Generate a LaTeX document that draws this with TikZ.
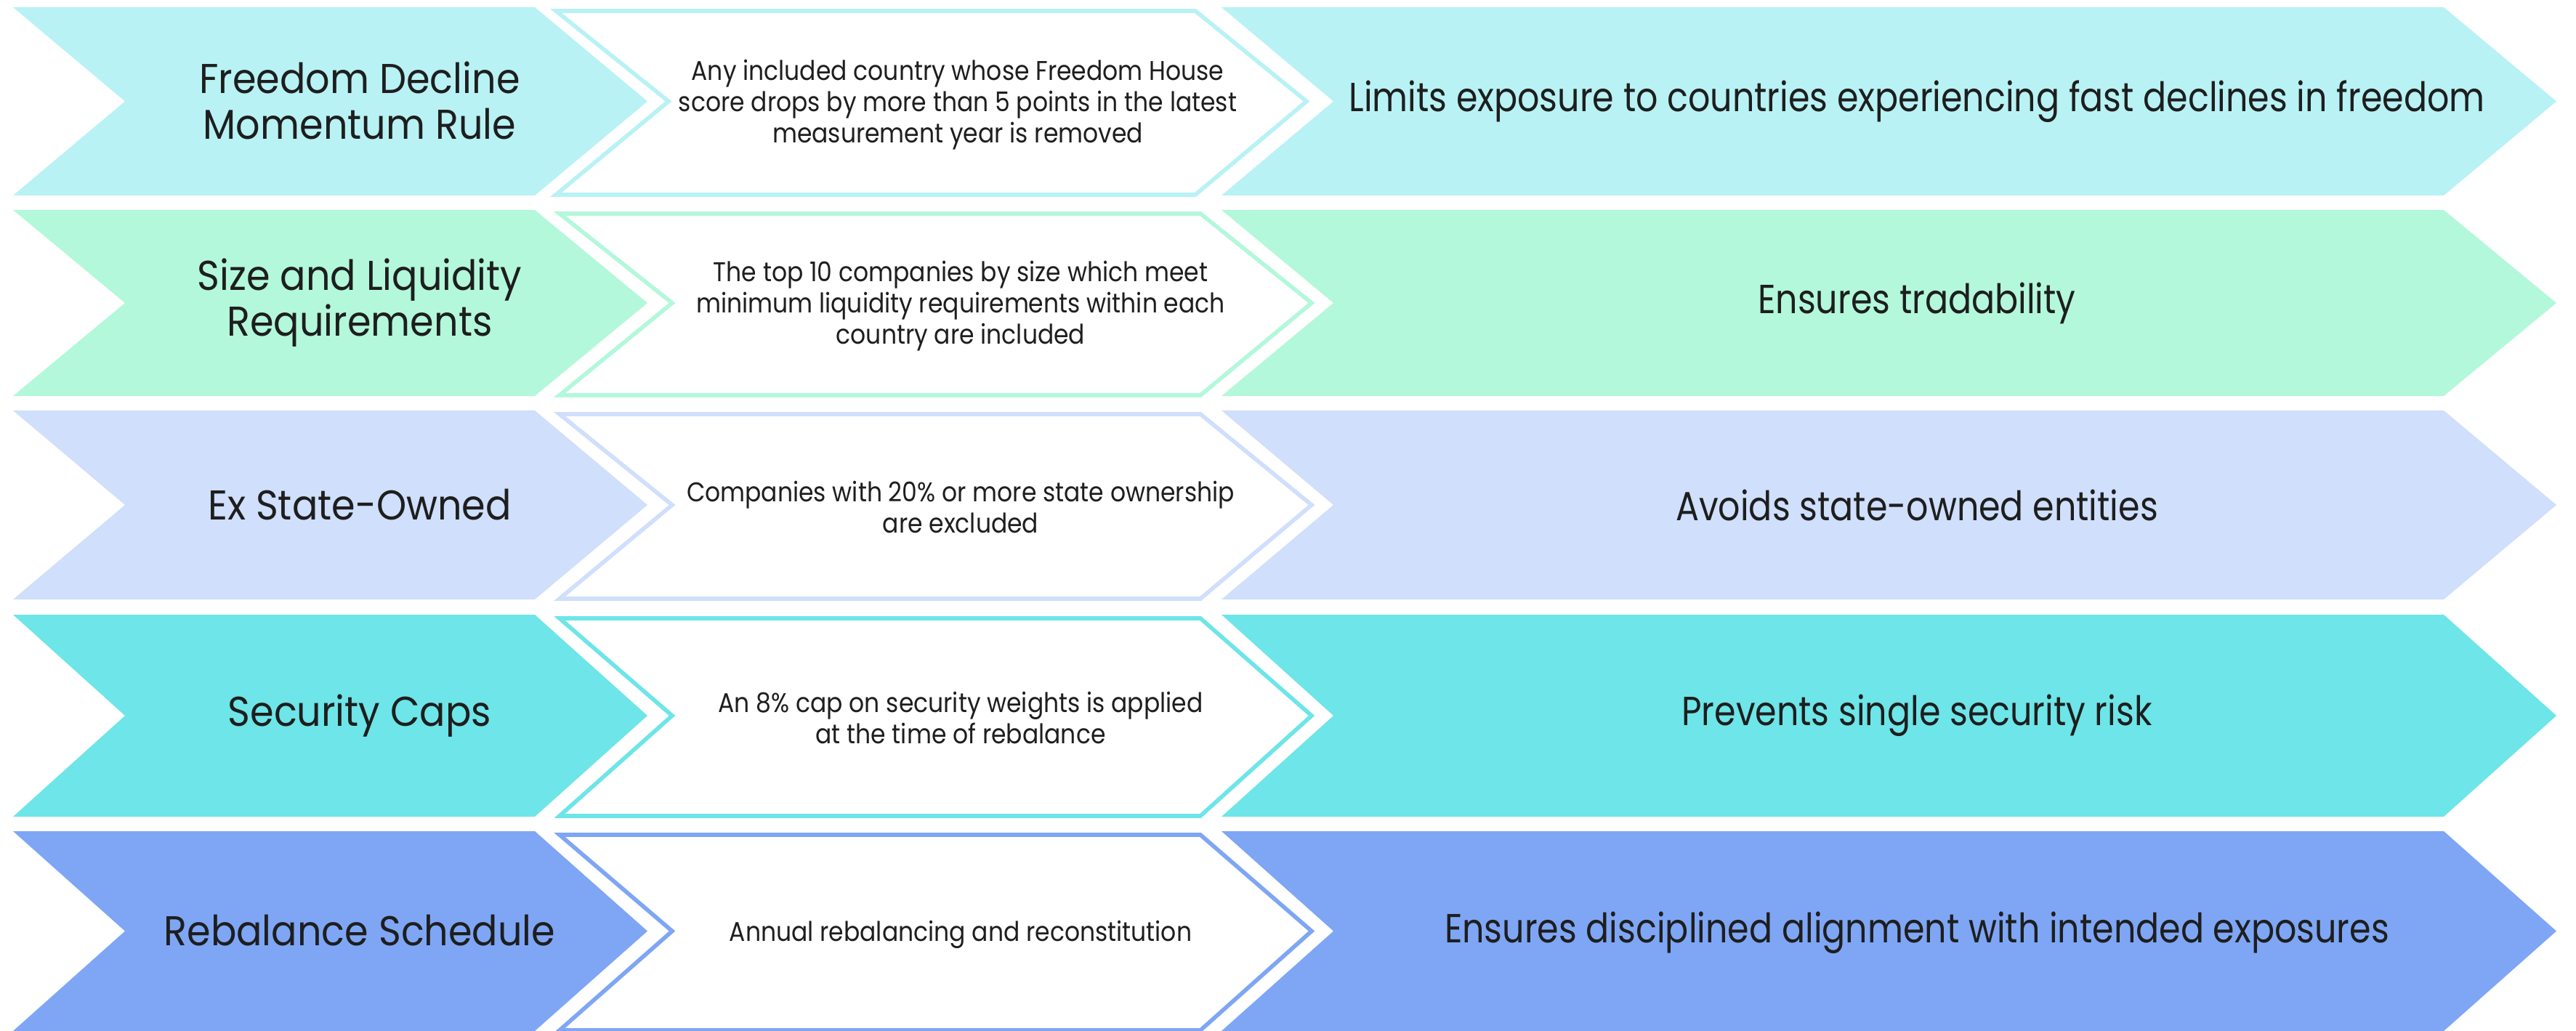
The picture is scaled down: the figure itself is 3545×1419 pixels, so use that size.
\documentclass[tikz,border=0pt]{standalone}
\usepackage{fontspec}
\setmainfont{Poppins}
\newfontfamily\rulefont{Poppins}[FakeStretch=0.915]
\newfontfamily\descfont{Poppins}[FakeStretch=0.885]
\newfontfamily\aimfont{Poppins}[FakeStretch=0.85]

\definecolor{rowA}{HTML}{B8F2F4}
\definecolor{rowB}{HTML}{B3F8DB}
\definecolor{rowC}{HTML}{CFDFFC}
\definecolor{rowD}{HTML}{6EE5E8}
\definecolor{rowE}{HTML}{7EA6F5}
\definecolor{ink}{HTML}{1E1E1E}

% one row: #1 top, #2 bottom, #3 left x of middle frame, #4 right x of middle frame, #5 colour
\newcommand{\chevronrow}[5]{%
  \pgfmathsetmacro\cy{(#1+#2)/2}%
  \pgfmathsetmacro\fl{#3+3}%
  \pgfmathsetmacro\fn{#3+158}%
  \pgfmathsetmacro\fr{#4-1}%
  \pgfmathsetmacro\ft{#4+152}%
  \pgfmathsetmacro\ftop{#1+5}%
  \pgfmathsetmacro\fbot{#2-1}%
  \fill[#5] (18,#1) -- (736,#1) -- (891,\cy) -- (736,#2) -- (18,#2) -- (172,\cy) -- cycle;
  \draw[frame, draw=#5] (\fl,\ftop) -- (\fr,\ftop) -- (\ft,\cy) -- (\fr,\fbot) -- (\fl,\fbot) -- (\fn,\cy) -- cycle;
  \fill[#5] (1681,#1) -- (3363,#1) -- (3518,\cy) -- (3363,#2) -- (1681,#2) -- (1835,\cy) -- cycle;
}

\begin{document}
\begin{tikzpicture}[x=0.01cm, y=-0.01cm,
  frame/.style={line width=1.6pt, line join=miter, fill=white},
  rulelabel/.style={text=ink, align=center, font=\rulefont\fontsize{16.3}{17.9}\selectfont, inner sep=0pt},
  desclabel/.style={text=ink, align=center, font=\descfont\fontsize{10.6}{12.3}\selectfont, inner sep=0pt},
  aimlabel/.style={text=ink, align=center, font=\aimfont\fontsize{15.9}{18}\selectfont, inner sep=0pt}]

\useasboundingbox (0,0) rectangle (3545,1419);
\fill[white] (0,0) rectangle (3545,1419);

% chevron bands
\chevronrow{10}{269}{762}{1646}{rowA}
\chevronrow{289}{545}{767}{1653}{rowB}
\chevronrow{565}{825}{767}{1653}{rowC}
\chevronrow{846}{1124}{767}{1653}{rowD}
\chevronrow{1144}{1419}{767}{1653}{rowE}

% row 1
\node[rulelabel] (rule1) at (495,138) {Freedom Decline\\Momentum Rule};
\node[desclabel] (desc1) at (1318,144) {Any included country whose Freedom House\\score drops by more than 5 points in the latest\\measurement year is removed};
\node[aimlabel]  (aim1)  at (2638,140) {Limits exposure to countries experiencing fast declines in freedom};

% row 2
\node[rulelabel] (rule2) at (495,417) {Size and Liquidity\\Requirements};
\node[desclabel] (desc2) at (1322,421) {The top 10 companies by size which meet\\minimum liquidity requirements within each\\country are included};
\node[aimlabel]  (aim2)  at (2638,417) {Ensures tradability};

% row 3
\node[rulelabel] (rule3) at (495,695) {Ex State-Owned};
\node[desclabel] (desc3) at (1322,698) {Companies with 20\% or more state ownership\\are excluded};
\node[aimlabel]  (aim3)  at (2638,695) {Avoids state-owned entities};

% row 4
\node[rulelabel] (rule4) at (495,985) {Security Caps};
\node[desclabel] (desc4) at (1322,988) {An 8\% cap on security weights is applied\\at the time of rebalance};
\node[aimlabel]  (aim4)  at (2638,985) {Prevents single security risk};

% row 5
\node[rulelabel] (rule5) at (495,1281) {Rebalance Schedule};
\node[desclabel] (desc5) at (1322,1286) {Annual rebalancing and reconstitution};
\node[aimlabel]  (aim5)  at (2638,1284) {Ensures disciplined alignment with intended exposures};

\end{tikzpicture}
\end{document}
